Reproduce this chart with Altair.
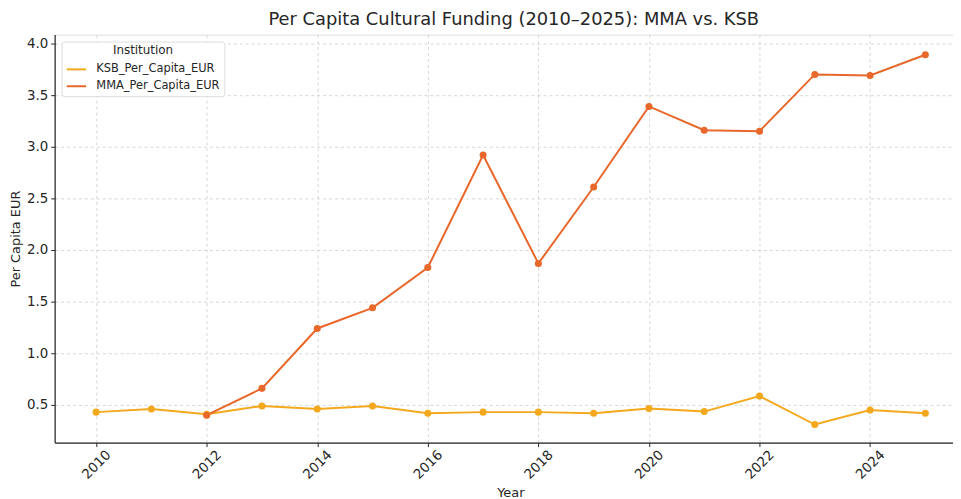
import altair as alt
import pandas as pd

years = list(range(2010, 2026))
ksb = [0.43, 0.46, 0.41, 0.49, 0.46, 0.49, 0.42, 0.43, 0.43, 0.42, 0.465, 0.435, 0.585, 0.31, 0.45, 0.42]
mma_years = list(range(2012, 2026))
mma = [0.40, 0.66, 1.24, 1.44, 1.83, 2.92, 1.87, 2.61, 3.39, 3.16, 3.15, 3.70, 3.69, 3.89]
series = ["KSB_Per_Capita_EUR", "MMA_Per_Capita_EUR"]
colors = ["#F4A81E", "#E8672A"]
x_ticks = [2010, 2012, 2014, 2016, 2018, 2020, 2022, 2024]
y_ticks = [0.5, 1.0, 1.5, 2.0, 2.5, 3.0, 3.5, 4.0]

rows = [{"Year": y, "Institution": series[0], "Value": v} for y, v in zip(years, ksb)]
rows += [{"Year": y, "Institution": series[1], "Value": v} for y, v in zip(mma_years, mma)]
df = pd.DataFrame(rows)

font = "DejaVu Sans"
ink = "#262626"
W, H = 905, 411

color = alt.Color(
    "Institution:N",
    scale=alt.Scale(domain=series, range=colors),
    legend=alt.Legend(
        title="Institution",
        orient="none",
        legendX=7,
        legendY=7,
        symbolType="stroke",
        symbolSize=380,
        symbolStrokeWidth=2,
        titleFont=font,
        titleFontSize=12,
        titleFontWeight="normal",
        titleColor=ink,
        titleAnchor="middle",
        titlePadding=1,
        labelFont=font,
        labelFontSize=11.5,
        labelColor=ink,
        labelOffset=9,
        padding=4,
        rowPadding=0,
        fillColor="#ffffff",
        strokeColor="#dddddd",
        cornerRadius=3,
    ),
)

x = alt.X(
    "Year:Q",
    scale=alt.Scale(domain=[2009.25, 2025.5], nice=False, zero=False),
    axis=alt.Axis(
        values=x_ticks,
        format="d",
        title="Year",
        labelAngle=-45,
        labelAlign="center",
        labelBaseline="middle",
        labelFont=font,
        labelFontSize=13.5,
        labelColor=ink,
        labelPadding=18,
        titleFont=font,
        titleFontSize=13,
        titleFontWeight="normal",
        titleColor=ink,
        titleX=459,
        titleY=54,
        titleBaseline="alphabetic",
        tickColor=ink,
        tickSize=4,
        domainColor=ink,
        domainWidth=1.2,
        gridColor="#cccccc",
        gridDash=[3, 3],
        gridWidth=0.8,
    ),
)

y = alt.Y(
    "Value:Q",
    scale=alt.Scale(domain=[0.135, 4.085], nice=False, zero=False),
    axis=alt.Axis(
        values=y_ticks,
        format=".1f",
        title="Per Capita EUR",
        labelFont=font,
        labelFontSize=13.5,
        labelColor=ink,
        labelPadding=3,
        titleFont=font,
        titleFontSize=13,
        titleFontWeight="normal",
        titleColor=ink,
        titlePadding=4,
        tickColor=ink,
        tickSize=4,
        domainColor=ink,
        domainWidth=1.2,
        gridColor="#cccccc",
        gridDash=[3, 3],
        gridWidth=0.8,
    ),
)

base = alt.Chart(df).encode(x=x, y=y, color=color)
lines = base.mark_line(strokeWidth=2)
points = base.mark_circle(size=50, opacity=1)

chart = (
    alt.layer(lines, points)
    .properties(
        width=W,
        height=H,
        autosize=alt.AutoSizeParams(type="none"),
        padding={"left": 47, "top": 25, "right": 0, "bottom": 55},
        title=alt.TitleParams(
            "Per Capita Cultural Funding (2010–2025): MMA vs. KSB",
            font=font,
            fontSize=18,
            fontWeight="normal",
            color=ink,
            anchor="middle",
            frame="group",
            dx=10,
            offset=6,
        ),
    )
    .configure_view(stroke=None)
    .configure(background="#ffffff")
)

chart.save("out.html", embed_options={"renderer": "svg", "actions": False})
